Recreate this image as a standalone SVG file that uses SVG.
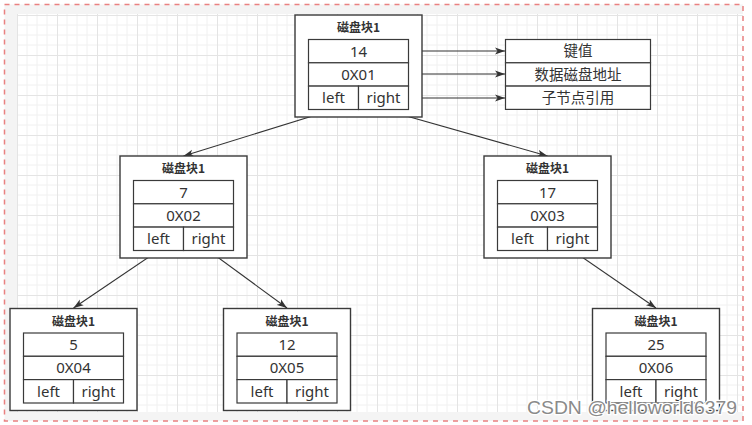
<svg xmlns="http://www.w3.org/2000/svg" width="752" height="425" viewBox="0 0 752 425">
<style>
.outer{fill:#fff;stroke:#3a3a3a;stroke-width:1.4}
.cell{fill:#fff;stroke:#3a3a3a;stroke-width:1.2}
.ttl{font-family:"Noto Sans CJK SC","Noto Sans",sans-serif;font-size:12px;font-weight:bold;fill:#333;text-anchor:middle}
.val{font-family:"Noto Sans","Noto Sans CJK SC",sans-serif;font-size:15px;fill:#333;text-anchor:middle}
.lbl{font-family:"Noto Sans CJK SC","Noto Sans",sans-serif;font-size:14.5px;fill:#333;text-anchor:middle}
.edge{fill:none;stroke:#333;stroke-width:1.1}
.wm{font-family:"Liberation Sans","Noto Sans",sans-serif;font-size:19px;fill:#8a8a8a;stroke:#fff;stroke-width:2.5;paint-order:stroke}
</style>
<defs>
<pattern id="grid" x="17" y="15" width="40" height="40" patternUnits="userSpaceOnUse">
<path d="M10,0V40M20,0V40M30,0V40M0,10H40M0,20H40M0,30H40" stroke="#f0f0f0" stroke-width="1" fill="none"/>
<path d="M0.5,0V40M0,0.5H40" stroke="#e4e4e4" stroke-width="1" fill="none"/>
</pattern>
<marker id="arr" markerWidth="10" markerHeight="8" refX="10" refY="4" orient="auto" markerUnits="userSpaceOnUse">
<path d="M0,0.5 L10,4 L0,7.5 L2.5,4 z" fill="#333"/>
</marker>
</defs>
<rect x="0" y="0" width="752" height="425" fill="#fff"/>
<rect x="4.5" y="4.5" width="738.5" height="416.5" fill="#f4f4f4"/>
<rect x="17" y="14" width="726" height="398" fill="#fff"/>
<rect x="17" y="14" width="726" height="398" fill="url(#grid)"/>
<rect x="4.5" y="4.5" width="738.5" height="416.5" fill="none" stroke="#e98080" stroke-width="1.5" stroke-dasharray="5,5"/>

<g id="connectors">
<line class="edge" x1="333.5" y1="109.5" x2="183.5" y2="156" marker-end="url(#arr)"/>
<line class="edge" x1="383.5" y1="109.5" x2="547.5" y2="156" marker-end="url(#arr)"/>
<line class="edge" x1="158.5" y1="250.5" x2="73.5" y2="308" marker-end="url(#arr)"/>
<line class="edge" x1="208.5" y1="250.5" x2="287" y2="308" marker-end="url(#arr)"/>
<line class="edge" x1="572.5" y1="250.5" x2="656" y2="308" marker-end="url(#arr)"/>
<line class="edge" x1="408.5" y1="51" x2="505" y2="51" marker-end="url(#arr)"/>
<line class="edge" x1="408.5" y1="74" x2="505" y2="74" marker-end="url(#arr)"/>
<line class="edge" x1="408.5" y1="98" x2="505" y2="98" marker-end="url(#arr)"/>
</g>

<g id="node-top">
<rect class="outer" x="295" y="15" width="127" height="102"/>
<text class="ttl" x="358.5" y="32">磁盘块1</text>
<rect class="cell" x="308.5" y="39.5" width="100" height="23.3"/>
<rect class="cell" x="308.5" y="62.8" width="100" height="23.3"/>
<rect class="cell" x="308.5" y="86.1" width="50" height="23.4"/>
<rect class="cell" x="358.5" y="86.1" width="50" height="23.4"/>
<text class="val" x="358.5" y="56.5">14</text>
<text class="val" x="358.5" y="79.8">0X01</text>
<text class="val" x="333.5" y="103">left</text>
<text class="val" x="383.5" y="103">right</text>
</g>

<g id="legend">
<rect class="cell" x="505.5" y="39.5" width="145" height="23.3"/>
<rect class="cell" x="505.5" y="62.8" width="145" height="23.3"/>
<rect class="cell" x="505.5" y="86.1" width="145" height="23.3"/>
<text class="lbl" x="578" y="56.2">键值</text>
<text class="lbl" x="578" y="79.5">数据磁盘地址</text>
<text class="lbl" x="578" y="102.8">子节点引用</text>
</g>

<g id="node-mid-left">
<rect class="outer" x="120" y="156" width="127" height="102"/>
<text class="ttl" x="183.5" y="173">磁盘块1</text>
<rect class="cell" x="133.5" y="180.5" width="100" height="23.3"/>
<rect class="cell" x="133.5" y="203.8" width="100" height="23.3"/>
<rect class="cell" x="133.5" y="227.1" width="50" height="23.4"/>
<rect class="cell" x="183.5" y="227.1" width="50" height="23.4"/>
<text class="val" x="183.5" y="197.5">7</text>
<text class="val" x="183.5" y="220.8">0X02</text>
<text class="val" x="158.5" y="244">left</text>
<text class="val" x="208.5" y="244">right</text>
</g>

<g id="node-mid-right">
<rect class="outer" x="484" y="156" width="127" height="102"/>
<text class="ttl" x="547.5" y="173">磁盘块1</text>
<rect class="cell" x="497.5" y="180.5" width="100" height="23.3"/>
<rect class="cell" x="497.5" y="203.8" width="100" height="23.3"/>
<rect class="cell" x="497.5" y="227.1" width="50" height="23.4"/>
<rect class="cell" x="547.5" y="227.1" width="50" height="23.4"/>
<text class="val" x="547.5" y="197.5">17</text>
<text class="val" x="547.5" y="220.8">0X03</text>
<text class="val" x="522.5" y="244">left</text>
<text class="val" x="572.5" y="244">right</text>
</g>

<g id="node-bot-left">
<rect class="outer" x="10" y="308.5" width="127" height="102"/>
<text class="ttl" x="73.5" y="325.5">磁盘块1</text>
<rect class="cell" x="23.5" y="333" width="100" height="23.3"/>
<rect class="cell" x="23.5" y="356.3" width="100" height="23.3"/>
<rect class="cell" x="23.5" y="379.6" width="50" height="23.4"/>
<rect class="cell" x="73.5" y="379.6" width="50" height="23.4"/>
<text class="val" x="73.5" y="350">5</text>
<text class="val" x="73.5" y="373.3">0X04</text>
<text class="val" x="48.5" y="396.5">left</text>
<text class="val" x="98.5" y="396.5">right</text>
</g>

<g id="node-bot-mid">
<rect class="outer" x="223.5" y="308.5" width="127" height="102"/>
<text class="ttl" x="287" y="325.5">磁盘块1</text>
<rect class="cell" x="237" y="333" width="100" height="23.3"/>
<rect class="cell" x="237" y="356.3" width="100" height="23.3"/>
<rect class="cell" x="237" y="379.6" width="50" height="23.4"/>
<rect class="cell" x="287" y="379.6" width="50" height="23.4"/>
<text class="val" x="287" y="350">12</text>
<text class="val" x="287" y="373.3">0X05</text>
<text class="val" x="262" y="396.5">left</text>
<text class="val" x="312" y="396.5">right</text>
</g>

<g id="node-bot-right">
<rect class="outer" x="592.5" y="308.5" width="127" height="102"/>
<text class="ttl" x="656" y="325.5">磁盘块1</text>
<rect class="cell" x="606" y="333" width="100" height="23.3"/>
<rect class="cell" x="606" y="356.3" width="100" height="23.3"/>
<rect class="cell" x="606" y="379.6" width="50" height="23.4"/>
<rect class="cell" x="656" y="379.6" width="50" height="23.4"/>
<text class="val" x="656" y="350">25</text>
<text class="val" x="656" y="373.3">0X06</text>
<text class="val" x="631" y="396.5">left</text>
<text class="val" x="681" y="396.5">right</text>
</g>

<text class="wm" x="527" y="414" textLength="210" lengthAdjust="spacingAndGlyphs">CSDN @helloworld6379</text>
</svg>
